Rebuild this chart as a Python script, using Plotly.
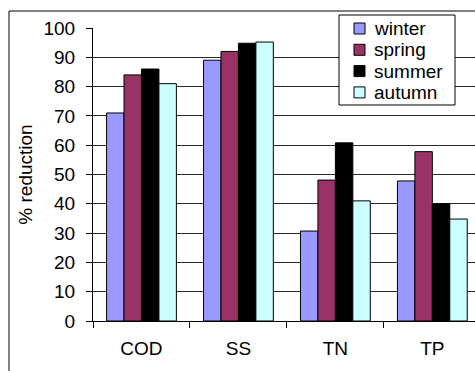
import plotly.graph_objects as go

categories = ["COD", "SS", "TN", "TP"]
winter = [71, 89, 30.7, 47.8]
spring = [84, 92, 48.1, 57.8]
summer = [86, 94.8, 60.8, 40]
autumn = [81, 95.2, 41, 34.8]

series = [
    ("winter", winter, "#9999FF"),
    ("spring", spring, "#993366"),
    ("summer", summer, "#000000"),
    ("autumn", autumn, "#CCFFFF"),
]

FONT = "Liberation Sans, Arial, sans-serif"
FS = 19

fig = go.Figure()
for name, vals, color in series:
    fig.add_trace(go.Bar(
        name=name, x=categories, y=vals, showlegend=False,
        marker=dict(color=color, line=dict(color="black", width=1)),
    ))

W, H = 475, 371
L, T, B, R = 93, 28, 50, 0
pw, ph = W - L - R, H - T - B


def px(x):
    return (x - L) / pw


def py(y):
    return (H - B - y) / ph


fig.update_layout(
    width=W, height=H,
    margin=dict(l=L, r=R, t=T, b=B),
    paper_bgcolor="white", plot_bgcolor="white",
    barmode="group", bargap=0.28, bargroupgap=0,
    font=dict(family=FONT, size=FS, color="black"),
    showlegend=False,
    xaxis=dict(
        type="category", range=[-0.5, 3.44],
        showline=True, linecolor="black", linewidth=1,
        ticks="outside", tickson="boundaries", ticklen=6, tickcolor="black",
        showgrid=False, tickfont=dict(size=FS), ticklabelstandoff=10,
    ),
    yaxis=dict(
        range=[0, 100], tickvals=list(range(0, 101, 10)),
        showline=True, linecolor="black", linewidth=1,
        ticks="outside", ticklen=6, tickcolor="black",
        showgrid=True, gridcolor="#2a2a2a", gridwidth=1,
        tickfont=dict(size=FS), ticklabelstandoff=7,
        title=dict(text="% reduction", font=dict(size=FS), standoff=5),
        zeroline=False,
    ),
)

# outer chart-area frame
fig.add_shape(
    type="rect", xref="paper", yref="paper",
    x0=px(9), x1=1.2, y0=-0.3, y1=py(11),
    line=dict(color="black", width=1), fillcolor="rgba(0,0,0,0)", layer="above",
)

# legend box with one swatch + label per series
fig.add_shape(
    type="rect", xref="paper", yref="paper",
    x0=px(339), x1=px(455), y0=py(105), y1=py(15),
    line=dict(color="black", width=1), fillcolor="white", layer="above",
)
for i, (name, _, color) in enumerate(series):
    cy = 28.5 + i * 21.3
    fig.add_shape(
        type="rect", xref="paper", yref="paper",
        x0=px(354), x1=px(365), y0=py(cy + 5.5), y1=py(cy - 5.5),
        line=dict(color="black", width=1), fillcolor=color, layer="above",
    )
    fig.add_annotation(
        xref="paper", yref="paper", x=px(372), y=py(cy),
        xanchor="left", yanchor="middle", showarrow=False,
        text=name, font=dict(family=FONT, size=FS, color="black"),
    )

fig.write_html("out.html")
